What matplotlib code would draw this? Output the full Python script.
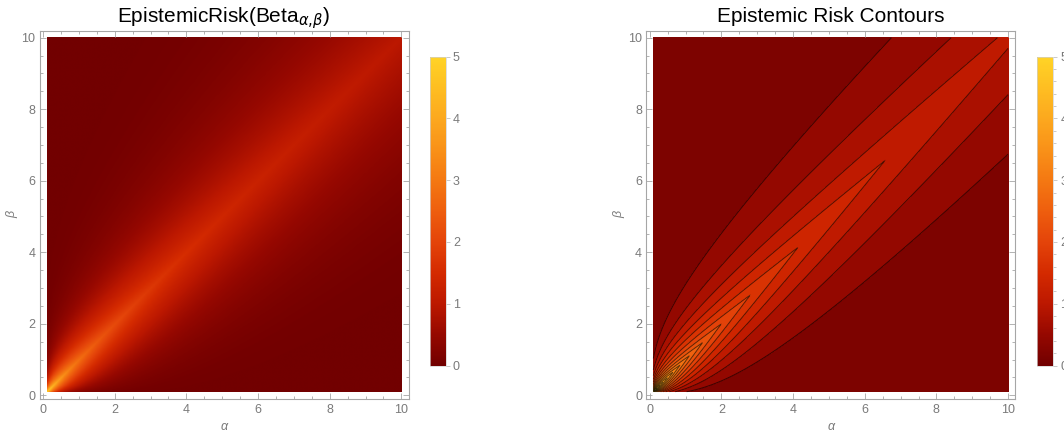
import math
import numpy as np
import matplotlib
matplotlib.use("Agg")
import matplotlib.pyplot as plt
from matplotlib.colors import LinearSegmentedColormap, Normalize
from matplotlib.cm import ScalarMappable
from matplotlib.ticker import MultipleLocator, FixedLocator

# ---------------- data ----------------
alpha_limits = [0.1, 10.0]          # plotted alpha range
beta_limits = [0.1, 10.0]           # plotted beta range
risk_scale = 11.3                   # scale so that the peak value reaches ~5
contour_levels = [0.32, 0.62, 0.92, 1.22, 1.52, 1.82, 2.12, 2.42,
                  2.72, 3.02, 3.32, 3.62, 3.92, 4.22, 4.52, 4.82]
colorbar_range = [0.0, 5.0]
colorbar_ticks = [0, 1, 2, 3, 4, 5]
axis_ticks = [0, 2, 4, 6, 8, 10]
solar_positions = [0.0, 0.1, 0.2, 0.3, 0.4, 0.5, 0.6, 0.7, 0.8, 0.9, 1.0]
solar_colors = ["#720000", "#960800", "#BC1800", "#D42A00", "#E4440A",
                "#EE5E0E", "#F47812", "#F99118", "#FCA81E", "#FEBE22", "#FFD326"]
titles = ["EpistemicRisk(Beta$_{\\alpha{,}\\beta}$)", "Epistemic Risk Contours"]
x_label = "α"
y_label = "β"

plt.rcParams["font.family"] = ["Liberation Sans", "DejaVu Sans"]
plt.rcParams["mathtext.fontset"] = "dejavusans"

cmap = LinearSegmentedColormap.from_list("solar", list(zip(solar_positions, solar_colors)))
norm = Normalize(vmin=colorbar_range[0], vmax=colorbar_range[1])

_lgamma = np.vectorize(math.lgamma)


def betacf(a, b, x, n_iter=220):
    tiny = 1e-300
    qab = a + b
    qap = a + 1.0
    qam = a - 1.0
    c = np.ones_like(a)
    d = 1.0 - qab * x / qap
    d = np.where(np.abs(d) < tiny, tiny, d)
    d = 1.0 / d
    h = d.copy()
    for m in range(1, n_iter + 1):
        m2 = 2 * m
        aa = m * (b - m) * x / ((qam + m2) * (a + m2))
        d = 1.0 + aa * d
        d = np.where(np.abs(d) < tiny, tiny, d)
        c = 1.0 + aa / c
        c = np.where(np.abs(c) < tiny, tiny, c)
        d = 1.0 / d
        h = h * d * c
        aa = -(a + m) * (qab + m) * x / ((a + m2) * (qap + m2))
        d = 1.0 + aa * d
        d = np.where(np.abs(d) < tiny, tiny, d)
        c = 1.0 + aa / c
        c = np.where(np.abs(c) < tiny, tiny, c)
        d = 1.0 / d
        h = h * d * c
    return h


def epistemic_risk(al, be):
    """Regret of the plug-in 0-1 decision under a Beta(al, be) belief."""
    a = np.minimum(al, be)
    b = np.maximum(al, be)
    s = a + b
    lnB = _lgamma(a) + _lgamma(b) - _lgamma(s)
    half_pow = np.exp(s * np.log(0.5) - lnB)
    q = half_pow / b * betacf(b, a, 0.5)
    t2 = 2.0 * half_pow / s
    m = a / s
    r = t2 - (1.0 - 2.0 * m) * q
    return np.clip(r * risk_scale, 0.0, None)


# density grid
ga = np.linspace(alpha_limits[0], alpha_limits[1], 420)
gb = np.linspace(beta_limits[0], beta_limits[1], 420)
A, B = np.meshgrid(ga, gb)
F = epistemic_risk(A, B)

# contour grid (denser near the origin)
ca = np.unique(np.concatenate([np.linspace(0.1, 1.5, 320), np.linspace(1.5, 10.0, 380)]))
CA, CB = np.meshgrid(ca, ca)
CF = epistemic_risk(CA, CB)

W, H = 1064, 438
fig = plt.figure(figsize=(W / 100, H / 100), dpi=100)
fig.patch.set_facecolor("white")

pad = 0.02 * (alpha_limits[1] - alpha_limits[0])
lims = [alpha_limits[0] - pad, alpha_limits[1] + pad]


def frame_axes(left_px):
    ax = fig.add_axes([left_px / W, 1 - 398.8 / H, 369 / W, 368.2 / H])
    ax.set_xlim(lims)
    ax.set_ylim(lims)
    for sp in ax.spines.values():
        sp.set_color("#a6a6a6")
        sp.set_linewidth(0.8)
    ax.xaxis.set_major_locator(FixedLocator(axis_ticks))
    ax.yaxis.set_major_locator(FixedLocator(axis_ticks))
    ax.xaxis.set_minor_locator(MultipleLocator(0.5))
    ax.yaxis.set_minor_locator(MultipleLocator(0.5))
    ax.tick_params(which="both", direction="in", top=True, right=True,
                   color="#a6a6a6", width=0.6)
    ax.tick_params(which="major", length=4)
    ax.tick_params(which="minor", length=2)
    ax.tick_params(axis="x", labelsize=9, labelcolor="#7a7a7a", pad=4)
    ax.tick_params(axis="y", labelsize=9, labelcolor="#7a7a7a", pad=3)
    ax.set_xlabel(x_label, fontsize=9, color="#7a7a7a", style="italic", labelpad=3)
    ax.set_ylabel(y_label, fontsize=9, color="#7a7a7a", style="italic", labelpad=2)
    return ax


def make_colorbar(left_px):
    cax = fig.add_axes([left_px / W, 1 - 365.5 / H, 16 / W, 308.8 / H])
    cb = fig.colorbar(ScalarMappable(norm=norm, cmap=cmap), cax=cax)
    cb.outline.set_edgecolor("#d0d0d0")
    cb.outline.set_linewidth(0.5)
    cb.set_ticks(colorbar_ticks)
    cax.yaxis.set_minor_locator(MultipleLocator(0.2))
    cax.tick_params(which="both", color="#c0c0c0", width=0.6)
    cax.tick_params(which="major", length=3, labelsize=9, labelcolor="#7a7a7a", pad=2)
    cax.tick_params(which="minor", length=2)
    return cb


# left: density plot
ax1 = frame_axes(39.5)
ax1.imshow(F, extent=[alpha_limits[0], alpha_limits[1], beta_limits[0], beta_limits[1]],
           origin="lower", cmap=cmap, norm=norm, aspect="auto", interpolation="bilinear")
ax1.set_title(titles[0], fontsize=15, color="black", pad=6)
make_colorbar(430)

# right: contour plot
ax2 = frame_axes(646.2)
fill_levels = [colorbar_range[0]] + contour_levels + [colorbar_range[1] + 0.5]
ax2.contourf(CA, CB, CF, levels=fill_levels, cmap=cmap, norm=norm)
ax2.contour(CA, CB, CF, levels=contour_levels, colors="black", linewidths=0.7, alpha=0.6)
ax2.set_title(titles[1], fontsize=15, color="black", pad=6)
make_colorbar(1037.3)

fig.savefig("out.png", dpi=100, facecolor="white")
